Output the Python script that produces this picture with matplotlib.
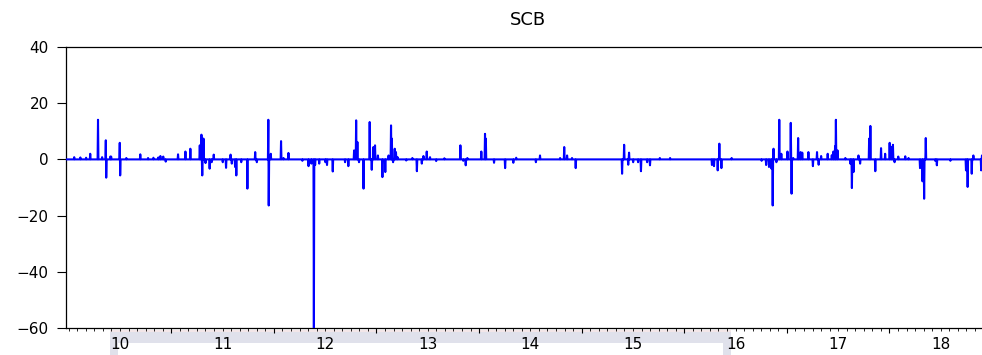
import numpy as np
import matplotlib
matplotlib.use("Agg")
import matplotlib.pyplot as plt
from matplotlib.patches import Rectangle

# series name and axis labels
title = "SCB"
year_labels = ["10", "11", "12", "13", "14", "15", "16", "17", "18"]
year_bounds = [2011, 2012, 2013, 2014, 2015, 2016, 2017, 2018]
y_ticks = [-60, -40, -20, 0, 20, 40]

# readings: (decimal year, value), everything else ~0
spike_dates = [
    2010.052, 2010.110, 2010.169, 2010.208, 2010.283, 2010.325, 2010.361, 2010.365,
    2010.403, 2010.412, 2010.497, 2010.501, 2010.558, 2010.695, 2010.773, 2010.822,
    2010.870, 2010.893, 2010.919, 2010.942, 2011.062, 2011.136, 2011.182, 2011.275,
    2011.292, 2011.299, 2011.312, 2011.331, 2011.370, 2011.390, 2011.413, 2011.501,
    2011.533, 2011.575, 2011.589, 2011.618, 2011.631, 2011.679, 2011.738,
    2011.816, 2011.832, 2011.945, 2011.949, 2011.967, 2012.066, 2012.091, 2012.140,
    2012.274, 2012.335, 2012.362, 2012.388, 2012.401, 2012.440, 2012.498, 2012.515,
    2012.573, 2012.693, 2012.722, 2012.778, 2012.800, 2012.813, 2012.829, 2012.871,
    2012.930, 2012.953, 2012.969, 2012.985, 2013.010, 2013.054, 2013.083, 2013.115,
    2013.138, 2013.148, 2013.158, 2013.174, 2013.187, 2013.205, 2013.288, 2013.346,
    2013.392, 2013.440, 2013.456, 2013.489, 2013.521,
    2013.580, 2013.658, 2013.814, 2013.843, 2013.869, 2013.885, 2014.018, 2014.054,
    2014.064, 2014.145, 2014.250, 2014.330, 2014.360, 2014.552, 2014.593, 2014.789,
    2014.827, 2014.857, 2014.902, 2014.941,
    2015.393, 2015.412, 2015.451, 2015.461, 2015.500, 2015.549, 2015.575, 2015.636,
    2015.663, 2015.760, 2015.858, 2016.267, 2016.286, 2016.322, 2016.338, 2016.361,
    2016.458, 2016.751, 2016.796, 2016.825, 2016.848, 2016.858, 2016.867, 2016.897,
    2016.923, 2016.945, 2017.004, 2017.037, 2017.043, 2017.060, 2017.108, 2017.133,
    2017.147, 2017.209, 2017.251, 2017.290, 2017.306, 2017.330, 2017.396, 2017.437,
    2017.452, 2017.466, 2017.476, 2017.491, 2017.566, 2017.615, 2017.632, 2017.647,
    2017.696, 2017.713, 2017.800, 2017.810, 2017.859, 2017.914, 2017.956, 2017.998,
    2018.015, 2018.031, 2018.047, 2018.083, 2018.151, 2018.183, 2018.297, 2018.320,
    2018.337, 2018.353, 2018.444, 2018.458, 2018.590, 2018.743, 2018.758, 2018.801,
    2018.817, 2018.892, 2018.899,
]
spike_vals = [
    0.8, 0.7, 0.6, 2.0, 14.1, 0.8, 6.8, -6.5,
    1.0, 1.0, 5.9, -5.7, 0.5, 1.8, 0.5, 0.6,
    0.7, 1.2, 1.0, -0.8, 1.8, 2.8, 3.8, 5.0,
    8.8, -5.7, 7.4, -1.3, -3.3, -1.0, 1.7, -1.0,
    -3.0, 1.7, -1.5, -2.7, -5.7, -1.0, -10.4,
    2.6, -1.0, 14.1, -16.4, 2.0, 6.5, 0.5, 2.3,
    -0.5, -2.4, -1.5, -60.0, -2.0, -1.5, -1.0, -2.0,
    -4.3, -1.0, -2.4, 3.2, 13.9, 6.2, -1.0, -10.4,
    13.3, -3.7, 4.4, 5.0, 1.4, -6.3, -4.5, 1.4,
    12.1, 7.4, -1.0, 3.8, 2.6, 0.8, -0.4, 0.5,
    -4.2, -1.5, 1.2, 2.8, 0.8,
    -0.6, 0.4, 5.0, -0.5, -2.1, 0.5, 2.8, 9.1,
    7.4, -1.2, -3.1, -1.2, 0.6, -1.0, 1.4, 0.5,
    4.4, 1.4, 0.5, -3.1,
    -5.1, 5.2, -1.9, 2.4, -1.0, -1.0, -4.2, -1.0,
    -2.1, 0.5, 0.5, -2.0, -2.4, -3.9, 5.6, -3.1,
    0.5, -0.5, -2.0, -2.7, -3.3, -16.4, 3.8, -1.0,
    14.1, 2.0, 2.8, 13.0, -12.2, 0.5, 7.6, 2.6,
    2.4, 2.6, -2.4, 2.6, -1.9, 1.2, 2.0, 1.5,
    2.8, 4.7, 14.1, 3.2, 0.5, -1.5, -10.2, -4.5,
    1.4, -1.5, 7.4, 11.9, -4.2, 4.0, 2.0, 5.9,
    4.4, 5.2, -1.0, 1.0, 1.1, 0.5, -3.1, -7.8,
    -14.0, 7.6, -0.5, -2.1, -0.5, -3.9, -9.8, -5.1,
    1.4, -3.9, 1.4,
]

t0, t1 = 2009.974, 2018.98
days = np.arange(t0, t1, 1 / 250)
ret = np.zeros(len(days))
ret[np.searchsorted(days, spike_dates)] = spike_vals

plt.rcParams['font.family'] = ['DejaVu Sans']

fig = plt.figure(figsize=(9.82, 3.55), dpi=100)
W, H = 982, 355
ax = fig.add_axes([66 / W, 27 / H, (990 - 66) / W, 281 / H])

ax.plot(days, ret, color="#0000ff", lw=1.5, zorder=3)
ax.set_xlim(t0, t1)
ax.set_ylim(-60, 40)

ax.set_yticks(y_ticks)
ax.tick_params(axis="y", direction="out", length=6.5, width=0.8, pad=6,
               labelsize=11)
ax.set_xticks(year_bounds)
ax.set_xticklabels([])
months = np.arange(2010, 2019, 1 / 12)
ax.set_xticks(months, minor=True)
ax.tick_params(axis="x", which="major", direction="out", length=3.6, width=0.8)
ax.tick_params(axis="x", which="minor", direction="out", length=2.2, width=0.6)
for i, lab in enumerate(year_labels):
    ax.text(2010.5 + i, -0.057, lab, transform=ax.get_xaxis_transform(),
            ha="center", va="center", fontsize=11)

for s in ax.spines.values():
    s.set_linewidth(0.9)

ax.set_title(title, fontsize=13, pad=16)

# light highlight band under the axis (present in the screenshot)
def band(x0, y0, x1, y1, c):
    fig.add_artist(Rectangle((x0 / W, 1 - y1 / H), (x1 - x0) / W, (y1 - y0) / H,
                             transform=fig.transFigure, color=c, lw=0, zorder=-1))

band(110, 329.5, 731, 332, "#f3e6e8")
band(110, 332, 731, 342.5, "#e0e1eb")
band(110, 342.5, 118, 355, "#e0e1eb")
band(723, 342.5, 731, 355, "#e0e1eb")

fig.savefig("out.png", dpi=100)
